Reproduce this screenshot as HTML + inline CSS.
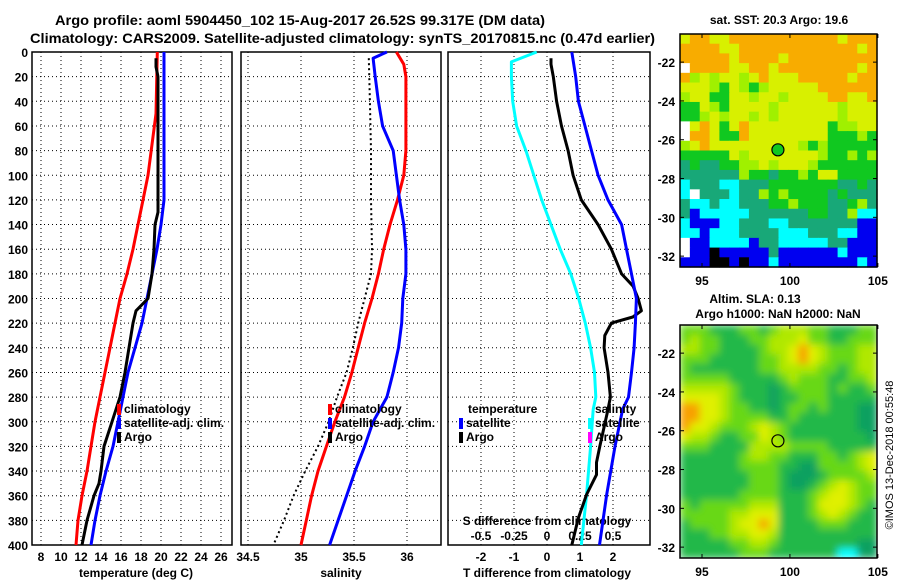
<!DOCTYPE html>
<html><head><meta charset="utf-8"><style>
html,body{margin:0;padding:0;background:#fff;}
svg{display:block;font-family:"Liberation Sans",sans-serif;font-weight:bold;}
</style></head><body>
<svg id="chart" width="900" height="580" viewBox="0 0 900 580" xmlns="http://www.w3.org/2000/svg">
<defs>
<filter id="blur" x="0" y="0" width="100%" height="100%"><feGaussianBlur stdDeviation="4" edgeMode="duplicate"/></filter>
<clipPath id="slaclip"><rect x="680" y="325" width="197" height="233"/></clipPath>
</defs>
<rect width="900" height="580" fill="#fff"/>
<text x="55" y="25" font-size="14" textLength="490" lengthAdjust="spacingAndGlyphs">Argo profile: aoml 5904450_102 15-Aug-2017 26.52S 99.317E (DM data)</text>
<text x="30" y="43" font-size="14" textLength="625" lengthAdjust="spacingAndGlyphs">Climatology: CARS2009. Satellite-adjusted climatology: synTS_20170815.nc (0.47d earlier)</text>
<g id="g"></g>
</svg>
<script>
// ---- data ----
const depthTicks=[0,20,40,60,80,100,120,140,160,180,200,220,240,260,280,300,320,340,360,380,400];
const tempTicks=[8,10,12,14,16,18,20,22,24,26];
const salTicks=[34.5,35,35.5,36];
const tdiffTicks=[-2,-1,0,1,2];
const sdiffTicks=[-0.5,-0.25,0,0.25,0.5];
const tempClimDepth=[0,50,100,120,140,160,180,200,220,240,260,280,300,320,340,360,380,400];
const tempClim=[19.63,19.5,18.7,18.2,17.7,17.2,16.6,15.9,15.4,14.9,14.4,13.9,13.4,13.0,12.6,12.1,11.7,11.5];
const tempSatDepth=[0,120,140,160,180,200,220,240,260,280,300,320,340,360,380,400];
const tempSat=[20.3,20.3,20.0,19.6,19.1,18.6,18.1,17.4,16.7,16.2,15.7,15.2,14.5,13.9,13.4,13.0];
const tempArgoDepth=[5,12,20,130,140,160,180,200,210,220,240,260,280,300,320,340,350,360,380,400];
const tempArgo=[19.5,19.5,19.7,19.7,19.4,19.3,19.1,18.7,17.5,17.2,16.8,16.4,15.9,15.1,14.3,14.0,13.8,13.3,12.6,12.1];
const salClimDepth=[0,10,20,80,100,120,140,160,180,200,220,240,260,280,300,320,340,360,380,400];
const salClim=[35.90,35.97,35.99,35.99,35.97,35.91,35.84,35.78,35.73,35.67,35.60,35.54,35.48,35.41,35.32,35.24,35.16,35.10,35.05,35.00];
const salSatDepth=[0,5,20,40,60,80,100,120,140,160,180,200,220,240,260,280,300,320,340,360,380,400];
const salSat=[35.81,35.68,35.70,35.73,35.77,35.87,35.90,35.93,35.97,35.99,35.99,35.96,35.95,35.92,35.87,35.81,35.68,35.60,35.51,35.43,35.35,35.27];
const salArgoDepth=[5,40,80,120,160,180,200,220,240,260,280,300,320,340,360,380,400];
const salArgo=[35.64,35.65,35.66,35.66,35.67,35.66,35.60,35.54,35.49,35.43,35.34,35.26,35.16,35.04,34.93,34.84,34.74];
const dTSatDepth=[0,20,40,60,80,100,120,140,160,180,200,220,240,260,280,290,320,359,400];
const dTSat=[0.75,0.87,0.95,1.15,1.35,1.55,1.85,2.26,2.41,2.56,2.71,2.68,2.64,2.56,2.47,2.29,2.06,1.81,1.59];
const dTArgoDepth=[5,10,20,40,60,80,100,120,140,160,180,190,200,210,215,220,230,240,260,280,290,320,333,343,359,378,400];
const dTArgo=[0.12,0.12,0.19,0.29,0.44,0.64,0.79,1.04,1.55,1.95,2.26,2.61,2.76,2.86,2.6,1.95,1.75,1.73,1.85,1.92,1.85,1.6,1.5,1.5,1.2,0.95,0.75];
const dSSatDepth=[0,8,20,40,60,80,100,120,140,160,180,200,220,240,260,280,290,320,359,400];
const dSSat=[-0.078,-0.27,-0.27,-0.26,-0.23,-0.16,-0.10,-0.04,0.03,0.10,0.18,0.24,0.29,0.33,0.36,0.37,0.35,0.33,0.30,0.26];
const sstRows=[
"YOOYYOOOOOOOOOOOYOOO","OOOOYYOOOOOOOOOOOOYO","OOOOOYOOOOYOOOOOOOOO","WOOOOYYOOYOOOOOOOOYO",
"OLYLYYLYOYYYOOOOOYOO","YYYLGYLGLYYYYYOOOOOO","LYYGGYYLYYLYYYYOOYYO","GGYLGYYYYLYYYYYYLYYY",
"GGLYLYYLYLYYYYYYLYYY","WYOYGYOYYYYYYYYGLLYY","WOOYGGOYYYYYYYYGGGLG","LYOYYYYYYYYYLGLGGGGG",
"GGGGGYLYYYYYYYLGGLGL","TGTTGGLLYLYYYLGGGGGG","TTTTTTLGGTGGLGYYGGGG","CTTTCCTTTGGGGGGGTTGT",
"CWTTTCTTLGLGGGGTGTTT","TCCTCCTTTGGLGGGTTGLT","TBCCCCCTTTTTTGGTTLCC","CBBBCCTTTCCTTTTTTTBB",
"CCBCCCTTTTCCCTTTCCBB","WBBCCCCBTTCCCCCTTBBB","WBBKBBBBBTBBBBBBCBBB","BBBKKBKBBCBBBBBBBBCB"];
const slaRows=[
"22211122123332211122","23221112233342211222","33221111233454322233","22211111223454322233",
"21111111223333221233","22222111112322211223","33333211101222212112","44443211101122211111",
"55443221101221211100","55443222211211111100","54432223432111111100","43321122432111111110",
"22211113333222211111","11111123322111221234","11111122221100222234","11111112221000122223",
"11111112221001234322","11111122221112344322","21222223331112444321","22222334441112343211",
"12222344541111222111","11122334431111111111","11111223321111111100","11111122211111116600"];
const lonTicks=[95,100,105];
const latTicks=[-22,-24,-26,-28,-30,-32];
const argoLon=99.317, argoLat=-26.52;
// ---- helpers ----
const NS="http://www.w3.org/2000/svg";const G=document.getElementById('g');
function mk(t,a,p){const e=document.createElementNS(NS,t);for(const k in a)e.setAttribute(k,a[k]);(p||G).appendChild(e);return e;}
const Y0=52,Y1=545;const yD=d=>Y0+d*(Y1-Y0)/400;
const panels=[{x0:32,x1:232},{x0:241,x1:441},{x0:448,x1:650}];
const xT=t=>41+(t-8)*10, xS=s=>301+(s-35)*106, xdT=d=>547+d*33, xdS=s=>547+s*132;
panels.forEach((p,i)=>{
 depthTicks.forEach(d=>{
  const l=mk('line',{x1:p.x0,x2:p.x1,y1:yD(d),y2:yD(d),stroke:'#000','stroke-dasharray':'1,3','stroke-width':1});
  
  
 });
 const b=mk('rect',{x:p.x0,y:Y0,width:p.x1-p.x0,height:Y1-Y0,fill:'none',stroke:'#000','stroke-width':1.5});
 
 
});
depthTicks.forEach(d=>{
 const t=mk('text',{x:28,y:yD(d)+5,'font-size':12,'text-anchor':'end'});t.textContent=d;
 
 
});
function vticks(vals,fx,p,ly){vals.forEach(v=>{const x=fx(v);
 if(x>p.x0+1&&x<p.x1-1){const l=mk('line',{x1:x,x2:x,y1:Y0,y2:Y1,stroke:'#000','stroke-dasharray':'1,3'});
 
 }
 const t=mk('text',{x:x,y:ly,'font-size':12,'text-anchor':'middle'});t.textContent=v;
 
 });}
vticks(tempTicks,xT,panels[0],561);
vticks(salTicks,xS,panels[1],561);
vticks(tdiffTicks,xdT,panels[2],561);
sdiffTicks.forEach(v=>{const t=mk('text',{x:xdS(v),y:540,'font-size':12,'text-anchor':'middle'});t.textContent=String(v);
 
 });
function txt(s,x,y,fs,anch,name){const t=mk('text',{x:x,y:y,'font-size':fs,'text-anchor':anch||'start'});t.textContent=s;
 
 return t;}
txt('temperature (deg C)',136,577,12,'middle','temperature-axis-title');
txt('salinity',341,577,12,'middle','salinity-axis-title');
txt('T difference from climatology',547,577,12,'middle','t-diff-axis-title');
txt('S difference from climatology',547,525,12,'middle','s-diff-axis-title');
function line(ds,vs,fx,col,name,dash){const pts=ds.map((d,i)=>fx(vs[i]).toFixed(1)+','+yD(d).toFixed(1)).join(' ');
 const a={points:pts,fill:'none',stroke:col,'stroke-width':dash?2:3,'stroke-linejoin':'round'};if(dash)a['stroke-dasharray']=dash;
 const e=mk('polyline',a);
 
 }
line(tempClimDepth,tempClim,xT,'#f00','temp-climatology-line');
line(tempSatDepth,tempSat,xT,'#00f','temp-satellite-line');
line(tempArgoDepth,tempArgo,xT,'#000','temp-argo-line');
line(salClimDepth,salClim,xS,'#f00','sal-climatology-line');
line(salSatDepth,salSat,xS,'#00f','sal-satellite-line');
line(salArgoDepth,salArgo,xS,'#000','sal-argo-line','2,3');
line(dSSatDepth,dSSat,xdS,'#0ff','s-diff-satellite-line');
line(dTArgoDepth,dTArgo,xdT,'#000','t-diff-argo-line');
line(dTSatDepth,dTSat,xdT,'#00f','t-diff-satellite-line');
function leg(x,y,col,s,name){const r=mk('rect',{x:x,y:y-9,width:4,height:11,fill:col});
 
 
 txt(s,x+7,y,12,'start',name);}
leg(117,413,'#f00','climatology','legend-t-climatology');leg(117,427,'#00f','satellite-adj. clim.','legend-t-satellite');leg(117,441,'#000','Argo','legend-t-argo');
leg(328,413,'#f00','climatology','legend-s-climatology');leg(328,427,'#00f','satellite-adj. clim.','legend-s-satellite');leg(328,441,'#000','Argo','legend-s-argo');
txt('temperature',468,413,12,'start','legend-temperature-header');
leg(459,427,'#00f','satellite','legend-dt-satellite');leg(459,441,'#000','Argo','legend-dt-argo');
txt('salinity',595,413,12,'start','legend-salinity-header');
leg(588,427,'#0ff','satellite','legend-ds-satellite');leg(588,441,'#f0f','Argo','legend-ds-argo');
// ---- maps ----
const MX0=680,MX1=877,LON0=93.75,LON1=104.95;
const xL=l=>MX0+(l-LON0)*(MX1-MX0)/(LON1-LON0);
const sstCol={O:'#f8ac00',Y:'#d8f000',L:'#a0f000',G:'#10c820',T:'#18a878',C:'#00ffff',B:'#0000f0',K:'#000',W:'#fff'};
const slaCol=['#10a060','#20b848','#68d818','#b0e800','#e0f000','#f8a000','#00ffff'];
function map(my0,name,rows,cellFn,circleFill,smooth){
 const my1=my0+233, yL=l=>my0+(-20.55-l)*19.4;
 const nr=rows.length,nc=rows[0].length,cw=(MX1-MX0)/nc,ch=(my1-my0)/nr;
 const outer=mk('g',smooth?{'clip-path':'url(#slaclip)'}:{});
 const grp=mk('g',smooth?{filter:'url(#blur)'}:{},outer);
 rows.forEach((row,r)=>{[...row].forEach((c,k)=>{const e=mk('rect',{x:MX0+k*cw,y:my0+r*ch,width:cw+0.6,height:ch+0.6,fill:cellFn(c)},grp);
  
  });});
 const fr=mk('rect',{x:MX0,y:my0,width:MX1-MX0,height:my1-my0,fill:'none',stroke:'#000','stroke-width':1.5});
 
 lonTicks.forEach(l=>{txt(String(l),xL(l),my1+18,12,'middle','lon-tick-label');
  mk('line',{x1:xL(l),x2:xL(l),y1:my1,y2:my1-4,stroke:'#000'});mk('line',{x1:xL(l),x2:xL(l),y1:my0,y2:my0+4,stroke:'#000'});});
 latTicks.forEach(l=>{txt(String(l),675,yL(l)+5,12,'end','lat-tick-label');
  mk('line',{x1:MX1,x2:MX1-4,y1:yL(l),y2:yL(l),stroke:'#000'});mk('line',{x1:MX0,x2:MX0+4,y1:yL(l),y2:yL(l),stroke:'#000'});});
 const c=mk('circle',{cx:xL(argoLon),cy:yL(argoLat),r:6,fill:circleFill,stroke:'#000','stroke-width':1.2});
 
}
map(34,'sst-map',sstRows,c=>sstCol[c],'#10c820',false);
map(325,'sla-map',slaRows,c=>slaCol[+c],'none',true);
txt('sat. SST: 20.3 Argo: 19.6',779,24,12,'middle','sst-map-title');
txt('Altim. SLA: 0.13',755,303,12,'middle','sla-map-title');
txt('Argo h1000: NaN h2000: NaN',778,318,12,'middle','argo-height-label');
const cr=txt('©IMOS 13-Dec-2018 00:55:48',0,0,11,'middle','imos-credit');
cr.setAttribute('transform','translate(893,455) rotate(-90)');cr.setAttribute('font-weight','normal');
</script>
</body></html>
